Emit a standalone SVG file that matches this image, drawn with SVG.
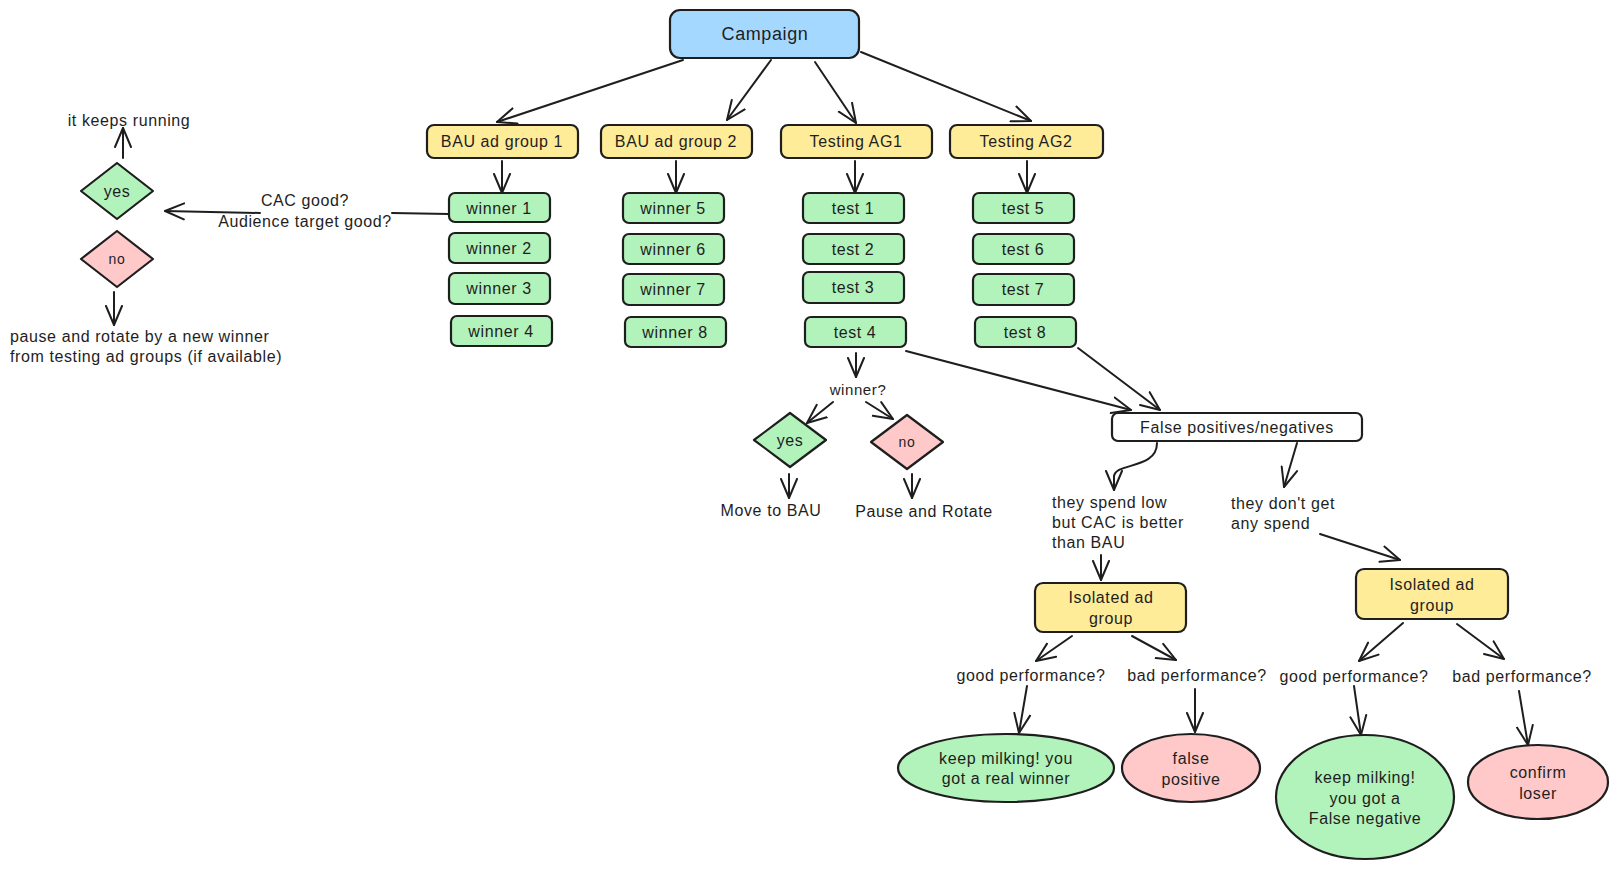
<svg xmlns="http://www.w3.org/2000/svg" width="1617" height="871" viewBox="0 0 1617 871">
<defs>
<marker id="ah" markerUnits="userSpaceOnUse" markerWidth="22" markerHeight="20" viewBox="0 0 22 20" refX="20" refY="10" orient="auto">
<path d="M1,2 L20,10 L1,18" fill="none" stroke="#1e1e1e" stroke-width="2" stroke-linecap="round" stroke-linejoin="round"/>
</marker>
<style>
.b{stroke:#1e1e1e;stroke-width:2.2}
.blue{fill:#a5d8ff}.yel{fill:#ffec99}.grn{fill:#b2f2bb}.pnk{fill:#ffc9c9}.wht{fill:#ffffff}
text{font-family:"Liberation Sans","Noto Sans",sans-serif;font-size:16px;letter-spacing:0.6px;fill:#1e1e1e}
.c{text-anchor:middle;dominant-baseline:central}
.l{dominant-baseline:central}
.e{fill:none;stroke:#1e1e1e;stroke-width:2;marker-end:url(#ah);stroke-linecap:round}
.p{fill:none;stroke:#1e1e1e;stroke-width:2;stroke-linecap:round}
</style>
</defs>

<g id="connectors">
<path class="e" d="M683,60 L497,122"/>
<path class="e" d="M771,60 L727,120"/>
<path class="e" d="M815,62 L856,123"/>
<path class="e" d="M861,52 L1031,121"/>
<path class="e" d="M502,161 L502,193"/>
<path class="e" d="M676,161 L676,193"/>
<path class="e" d="M855,161 L855,193"/>
<path class="e" d="M1027,161 L1027,193"/>
<path class="p" d="M449,214 L392,213"/>
<path class="e" d="M260,213 L165,211"/>
<path class="e" d="M123,158 L123,128"/>
<path class="e" d="M114,292 L114,325"/>
<path class="e" d="M856,353 L856,377"/>
<path class="e" d="M833,402 L807,423"/>
<path class="e" d="M866,402 L893,419"/>
<path class="e" d="M789,474 L789,498"/>
<path class="e" d="M912,474 L912,498"/>
<path class="e" d="M906,351 L1131,410"/>
<path class="e" d="M1078,348 L1160,410"/>
<path class="e" d="M1157,443 C1157,470 1114,462 1114,477 L1114,490"/>
<path class="e" d="M1297,443 L1284,487"/>
<path class="e" d="M1101,555 L1101,580"/>
<path class="e" d="M1320,534 L1400,560"/>
<path class="e" d="M1072,636 L1036,661"/>
<path class="e" d="M1132,636 L1176,660"/>
<path class="e" d="M1403,623 L1359,661"/>
<path class="e" d="M1457,624 L1504,659"/>
<path class="e" d="M1027,686 L1019,733"/>
<path class="e" d="M1195,689 L1195,732"/>
<path class="e" d="M1354,686 L1361,735"/>
<path class="e" d="M1519,691 L1528,745"/>
</g>

<g id="campaign"><rect class="b blue" x="670" y="10" width="189" height="48" rx="10"/><text class="c" x="765" y="34" style="font-size:18px">Campaign</text></g>

<g id="bau1"><rect class="b yel" x="427" y="125" width="151" height="33" rx="7"/><text class="c" x="502" y="141">BAU ad group 1</text></g>
<g id="bau2"><rect class="b yel" x="601" y="125" width="151" height="33" rx="7"/><text class="c" x="676" y="141">BAU ad group 2</text></g>
<g id="tag1"><rect class="b yel" x="781" y="125" width="151" height="33" rx="7"/><text class="c" x="856" y="141">Testing AG1</text></g>
<g id="tag2"><rect class="b yel" x="950" y="125" width="153" height="33" rx="7"/><text class="c" x="1026" y="141">Testing AG2</text></g>

<g id="winner1"><rect class="b grn" x="449" y="193" width="101" height="29" rx="6"/><text class="c" x="499" y="208">winner 1</text></g>
<g id="winner2"><rect class="b grn" x="449" y="233" width="101" height="30" rx="6"/><text class="c" x="499" y="248">winner 2</text></g>
<g id="winner3"><rect class="b grn" x="449" y="273" width="101" height="31" rx="6"/><text class="c" x="499" y="288">winner 3</text></g>
<g id="winner4"><rect class="b grn" x="451" y="316" width="101" height="30" rx="6"/><text class="c" x="501" y="331">winner 4</text></g>
<g id="winner5"><rect class="b grn" x="623" y="193" width="101" height="30" rx="6"/><text class="c" x="673" y="208">winner 5</text></g>
<g id="winner6"><rect class="b grn" x="623" y="234" width="101" height="30" rx="6"/><text class="c" x="673" y="249">winner 6</text></g>
<g id="winner7"><rect class="b grn" x="623" y="274" width="101" height="31" rx="6"/><text class="c" x="673" y="289">winner 7</text></g>
<g id="winner8"><rect class="b grn" x="625" y="317" width="101" height="30" rx="6"/><text class="c" x="675" y="332">winner 8</text></g>
<g id="test1"><rect class="b grn" x="803" y="193" width="101" height="30" rx="6"/><text class="c" x="853" y="208">test 1</text></g>
<g id="test2"><rect class="b grn" x="803" y="234" width="101" height="30" rx="6"/><text class="c" x="853" y="249">test 2</text></g>
<g id="test3"><rect class="b grn" x="803" y="272" width="101" height="31" rx="6"/><text class="c" x="853" y="287">test 3</text></g>
<g id="test4"><rect class="b grn" x="805" y="317" width="101" height="30" rx="6"/><text class="c" x="855" y="332">test 4</text></g>
<g id="test5"><rect class="b grn" x="973" y="193" width="101" height="30" rx="6"/><text class="c" x="1023" y="208">test 5</text></g>
<g id="test6"><rect class="b grn" x="973" y="234" width="101" height="30" rx="6"/><text class="c" x="1023" y="249">test 6</text></g>
<g id="test7"><rect class="b grn" x="973" y="274" width="101" height="31" rx="6"/><text class="c" x="1023" y="289">test 7</text></g>
<g id="test8"><rect class="b grn" x="975" y="317" width="101" height="30" rx="6"/><text class="c" x="1025" y="332">test 8</text></g>

<g id="left-yes"><path class="b grn" d="M117,163 L153,191 L117,219 L81,191 Z" stroke-linejoin="round"/><text class="c" x="117" y="191">yes</text></g>
<g id="left-no"><path class="b pnk" d="M117,231 L153,259 L117,287 L81,259 Z" stroke-linejoin="round"/><text class="c" x="117" y="259" style="font-size:14px">no</text></g>
<g id="t-keeps"><text class="c" x="129" y="120">it keeps running</text></g>
<g id="t-cac"><text class="c" x="305" y="200">CAC good?</text><text class="c" x="305" y="221">Audience target good?</text></g>
<g id="t-pause"><text class="l" x="10" y="336">pause and rotate by a new winner</text><text class="l" x="10" y="356">from testing ad groups (if available)</text></g>

<g id="t-winner"><text class="c" x="858" y="389" style="font-size:15px">winner?</text></g>
<g id="yes2"><path class="b grn" d="M790,413 L826,440 L790,467 L754,440 Z" stroke-linejoin="round"/><text class="c" x="790" y="440">yes</text></g>
<g id="no2"><path class="b pnk" d="M907,415 L943,442 L907,469 L871,442 Z" stroke-linejoin="round"/><text class="c" x="907" y="442" style="font-size:14px">no</text></g>
<g id="t-move"><text class="c" x="771" y="510">Move to BAU</text></g>
<g id="t-pr"><text class="c" x="924" y="511">Pause and Rotate</text></g>

<g id="fpn"><rect class="b wht" x="1112" y="413" width="250" height="28" rx="6"/><text class="c" x="1237" y="427">False positives/negatives</text></g>
<g id="t-spendlow"><text class="l" x="1052" y="502">they spend low</text><text class="l" x="1052" y="522">but CAC is better</text><text class="l" x="1052" y="542">than BAU</text></g>
<g id="t-nospend"><text class="l" x="1231" y="503">they don't get</text><text class="l" x="1231" y="523">any spend</text></g>

<g id="iso1"><rect class="b yel" x="1035" y="583" width="151" height="49" rx="8"/><text class="c" x="1111" y="597">Isolated ad</text><text class="c" x="1111" y="618">group</text></g>
<g id="iso2"><rect class="b yel" x="1356" y="569" width="152" height="50" rx="8"/><text class="c" x="1432" y="584">Isolated ad</text><text class="c" x="1432" y="605">group</text></g>

<g id="t-good1"><text class="c" x="1031" y="675">good performance?</text></g>
<g id="t-bad1"><text class="c" x="1197" y="675">bad performance?</text></g>
<g id="t-good2"><text class="c" x="1354" y="676">good performance?</text></g>
<g id="t-bad2"><text class="c" x="1522" y="676">bad performance?</text></g>

<g id="real-winner"><ellipse class="b grn" cx="1006" cy="768" rx="108" ry="34"/><text class="c" x="1006" y="758">keep milking! you</text><text class="c" x="1006" y="778">got a real winner</text></g>
<g id="false-positive"><ellipse class="b pnk" cx="1191" cy="768" rx="69" ry="34"/><text class="c" x="1191" y="758">false</text><text class="c" x="1191" y="779">positive</text></g>
<g id="false-negative"><ellipse class="b grn" cx="1365" cy="797" rx="89" ry="62"/><text class="c" x="1365" y="777">keep milking!</text><text class="c" x="1365" y="798">you got a</text><text class="c" x="1365" y="818">False negative</text></g>
<g id="confirm-loser"><ellipse class="b pnk" cx="1538" cy="782" rx="70" ry="37"/><text class="c" x="1538" y="772">confirm</text><text class="c" x="1538" y="793">loser</text></g>
</svg>
